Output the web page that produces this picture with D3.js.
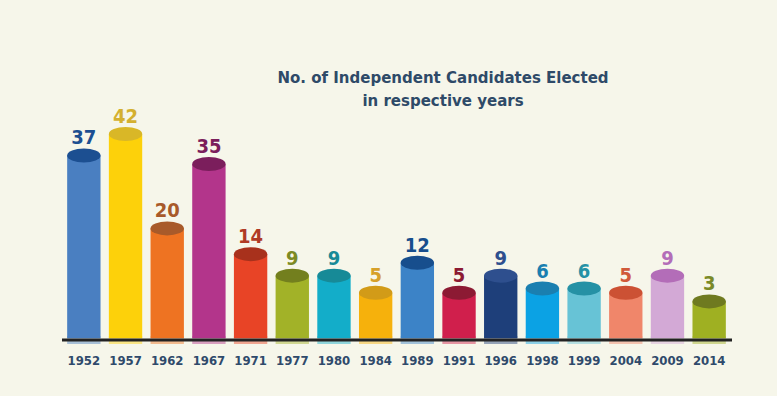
<!DOCTYPE html>
<html>
<head>
<meta charset="utf-8">
<script src="https://cdn.jsdelivr.net/npm/d3@7"></script>
<style>
  body { margin: 0; background: #f6f6ea; }
  svg { display: block; font-family: "DejaVu Sans", Verdana, sans-serif; }
</style>
</head>
<body>
<div id="chart"></div>
<script>
// data
var years = ["1952","1957","1962","1967","1971","1977","1980","1984","1989","1991","1996","1998","1999","2004","2009","2014"];
var seats = [37, 42, 20, 35, 14, 9, 9, 5, 12, 5, 9, 6, 6, 5, 9, 3];
var barColors = ["#4a7fc1","#fdd10a","#ee7322","#b3358b","#e84426","#a2b228","#13adc9","#f6b10c","#3c83c7","#d01f4c","#1e3f7a","#0ba2e4","#67c3d6","#f0866a","#d3a9d6","#9fb022"];
var topColors = ["#1c4f91","#d9b727","#a85a2a","#7b1e5c","#a8311c","#737f1e","#178a97","#d29b18","#174e8d","#8c1a33","#2e4f8e","#1a7fb0","#2591a5","#cc5134","#b36db8","#6f7a20"];
var labelColors = ["#1c4f91","#d4b030","#a85a2a","#7b1e5c","#b03a25","#7c8a24","#178a97","#d6a02a","#174e8d","#8c1a33","#2e4f8e","#1a7fb0","#2591a5","#d05a3a","#b36db8","#7a8a28"];
var titleLines = ["No. of Independent Candidates Elected", "in respective years"];

var W = 777, H = 396;
var baseY = 340;

var svg = d3.select("#chart").append("svg")
    .attr("width", W)
    .attr("height", H);

svg.append("rect").attr("width", W).attr("height", H).attr("fill", "#f6f6ea");

var rows = years.map(function(y, i) {
    return {year: y, v: seats[i], bar: barColors[i], top: topColors[i], lab: labelColors[i]};
});

var x = d3.scaleBand().domain(years).range([63, 730]).paddingInner(0.2).paddingOuter(0.1);
// the infographic isn't drawn to zero, so the scale starts a bit under it
var y = d3.scaleLinear().domain([-6, 42]).range([baseY, baseY - 206]);

var bw = x.bandwidth();
var ry = 7;

var g = svg.append("g");

// soft reflection under the baseline
g.selectAll(".reflect").data(rows).enter().append("rect")
    .attr("x", function(d) { return x(d.year); })
    .attr("y", baseY - 4)
    .attr("width", bw)
    .attr("height", 8)
    .attr("fill", function(d) { return d.bar; })
    .attr("opacity", 0.45);

// cylinder body
g.selectAll(".bar").data(rows).enter().append("rect")
    .attr("x", function(d) { return x(d.year); })
    .attr("y", function(d) { return y(d.v); })
    .attr("width", bw)
    .attr("height", function(d) { return baseY - 2 - y(d.v); })
    .attr("fill", function(d) { return d.bar; });

// cylinder top
g.selectAll(".cap").data(rows).enter().append("ellipse")
    .attr("cx", function(d) { return x(d.year) + bw / 2; })
    .attr("cy", function(d) { return y(d.v); })
    .attr("rx", bw / 2)
    .attr("ry", ry)
    .attr("fill", function(d) { return d.top; });

// value labels
g.selectAll(".val").data(rows).enter().append("text")
    .attr("x", function(d) { return x(d.year) + bw / 2; })
    .attr("y", function(d) { return y(d.v) - 11; })
    .attr("text-anchor", "middle")
    .attr("font-size", 20)
    .attr("font-weight", "bold")
    .attr("font-family", "DejaVu Sans Condensed, DejaVu Sans, sans-serif")
    .attr("fill", function(d) { return d.lab; })
    .text(function(d) { return d.v; });

// baseline
svg.append("line")
    .attr("x1", 62).attr("x2", 732)
    .attr("y1", baseY).attr("y2", baseY)
    .attr("stroke", "#222")
    .attr("stroke-width", 3);

// year axis, no line or ticks
var axisX = d3.axisBottom(x).tickSize(0).tickPadding(0);
var ax = svg.append("g").attr("transform", "translate(0," + (baseY + 20) + ")").call(axisX);
ax.select(".domain").remove();
ax.selectAll("text")
    .attr("dy", "0.35em")
    .attr("font-size", 13)
    .attr("font-weight", "bold")
    .attr("font-family", "DejaVu Sans Condensed, DejaVu Sans, sans-serif")
    .attr("fill", "#2f4a6b");

// title
svg.append("text")
    .attr("x", 443)
    .attr("y", 83)
    .attr("text-anchor", "middle")
    .attr("font-size", 15)
    .attr("font-weight", "bold")
    .attr("fill", "#2e4a68")
    .selectAll("tspan").data(titleLines).enter().append("tspan")
    .attr("x", 443)
    .attr("dy", function(d, i) { return i ? 23 : 0; })
    .text(function(d) { return d; });
</script>
</body>
</html>
